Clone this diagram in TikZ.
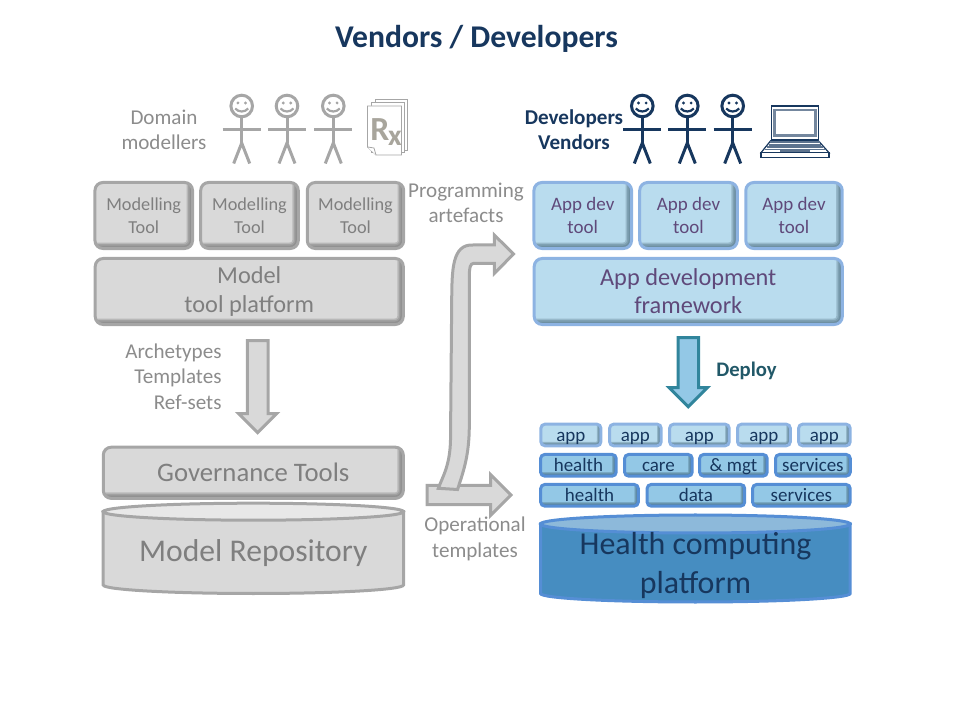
\documentclass[tikz,border=0pt]{standalone}
\usepackage{fontspec}
\setmainfont{Carlito}
\usetikzlibrary{shapes.geometric, shapes.arrows}

\definecolor{greyfill}{HTML}{D9D9D9}
\definecolor{greyline}{HTML}{A6A6A6}
\definecolor{greydark}{HTML}{6F6F6F}
\definecolor{greytext}{HTML}{7F7F7F}
\definecolor{capttext}{HTML}{8C8C8C}
\definecolor{bluefill}{HTML}{B9DCEE}
\definecolor{blueline}{HTML}{8DB3E2}
\definecolor{bluedark}{HTML}{4A6A7C}
\definecolor{smallfill}{HTML}{93C8E6}
\definecolor{smallline}{HTML}{558ED5}
\definecolor{smalldark}{HTML}{3F6478}
\definecolor{purpletext}{HTML}{5F497A}
\definecolor{navy}{HTML}{17375E}
\definecolor{teal}{HTML}{31859C}
\definecolor{tealtext}{HTML}{215868}
\definecolor{basefill}{HTML}{468DC1}
\definecolor{basetop}{HTML}{8DB9DA}
\definecolor{rxcolor}{HTML}{A8A59C}

\newcommand{\fsize}[1]{\fontsize{#1}{#1}\selectfont}

\tikzset{
  bevel/.style n args={2}{
    path picture={
      \foreach \w in {1, 0.75, 0.5, 0.25} {
        \draw[#1, opacity=0.3, line width=\w*#2]
          (path picture bounding box.north east) -- (path picture bounding box.south east)
          -- (path picture bounding box.south west);
      }
    }
  },
  person/.pic={
    \draw[line width=0.075cm] (0,0) circle (10.8);
    \fill (-3.8,-3) circle (1.6);
    \fill (3.8,-3) circle (1.6);
    \draw[line width=0.055cm] (-6.5,2.5) .. controls (-3,6.5) and (3,6.5) .. (6.5,2.5);
    \draw[line width=0.075cm] (0,10.8) -- (0,37);
    \draw[line width=0.075cm] (-19,23.5) -- (19,23.5);
    \draw[line width=0.075cm] (-8,57.5) -- (0,37) -- (8,57.5);
  }
}

\tikzstyle{element}=[rectangle, line width=0.075cm, draw, rounded corners=0.2cm, align=center]
\tikzstyle{greybox}=[element, draw=greyline, fill=greyfill, text=greytext, bevel={greydark}{0.3cm}]
\tikzstyle{bluebox}=[element, draw=blueline, fill=bluefill, text=purpletext, bevel={bluedark}{0.3cm}]
\tikzstyle{appbox}=[element, rounded corners=0.1cm, minimum height=0.54cm, inner sep=0, text=navy,
                    font=\fsize{13.5}, text height=10pt, text depth=0.5pt,
                    draw=blueline, fill=bluefill, bevel={smalldark}{0.2cm}]
\tikzstyle{svcbox}=[element, rounded corners=0.1cm, minimum height=0.54cm, inner sep=0, text=navy,
                    font=\fsize{13.5}, text height=10pt, text depth=0.5pt,
                    draw=smallline, fill=smallfill, bevel={smalldark}{0.2cm}]
\tikzstyle{caption}=[text=capttext, align=center, font=\fsize{15}]
\tikzstyle{block}=[single arrow, line width=0.075cm, inner sep=0.22cm, single arrow head extend=0.22cm]
\tikzstyle{store}=[line width=0.075cm]

\begin{document}
\begin{tikzpicture}[x=0.025cm, y=-0.025cm]
\useasboundingbox (0, 0) rectangle (960, 720);

%%%%%%%%%%%%%%%%%%%%%%%%%%%%%%
% nodes

\node (title) at (476.5, 39) [text=navy, font=\fsize{22.5}\bfseries] {Vendors / Developers};

% modellers
\node (domain) at (164, 130) [caption] {Domain\\[3pt]modellers};
\pic [color=greyline] (modeller_a) at (241.7, 106) {person};
\pic [color=greyline] (modeller_b) at (287, 106) {person};
\pic [color=greyline] (modeller_c) at (333.3, 106) {person};

\node (tool_a) at (143.75, 215.5) [greybox, minimum width=2.44cm, minimum height=1.65cm, font=\fsize{13}] {Modelling\\[3.5pt]Tool};
\node (tool_b) at (249.5, 215.5) [greybox, minimum width=2.44cm, minimum height=1.65cm, font=\fsize{13}] {Modelling\\[3.5pt]Tool};
\node (tool_c) at (355.5, 215.5) [greybox, minimum width=2.41cm, minimum height=1.65cm, font=\fsize{13}] {Modelling\\[3.5pt]Tool};
\node (platform) at (249.25, 291.5) [greybox, minimum width=7.7cm, minimum height=1.65cm, font=\fsize{17.3}] {Model\\[2.7pt]tool platform};

\node (archetypes) at (226.5, 376.5) [caption, anchor=east, align=right] {Archetypes\\[3pt]Templates\\[3pt]Ref-sets};
\node (model_arrow) at (257.7, 381.5) [block, draw=greyline, fill=greyfill, shape border rotate=270, minimum height=2.3cm] {};

\node (governance) at (253.3, 472.8) [greybox, minimum width=7.5cm, minimum height=1.28cm, font=\fsize{19}] {Governance Tools};

% model repository
\draw [store, draw=greyline, fill=greyfill] (103.2, 511.7) -- (103.2, 585)
  arc [start angle=180, end angle=0, x radius=150.15, y radius=8.5] -- (403.5, 511.7) -- cycle;
\draw [store, draw=greyline, fill=greyfill!60!white] (253.35, 511.7) ellipse [x radius=150.15, y radius=8.5];
\node (repository) at (253.3, 553.5) [text=greytext, font=\fsize{22.5}] {Model Repository};

% artefacts
\node (programming) at (466, 202.5) [caption] {Programming\\[3pt]artefacts};
\node (operational) at (475, 539) [caption] {Operational\\[3pt]templates};
\node (operational_arrow) at (464.2, 495) [block, draw=greyline, fill=greyfill, inner sep=0.206cm, single arrow head extend=0.27cm, minimum height=2.1cm] {};
\draw [line width=0.075cm, draw=greyline, fill=greyfill]
  (438.3, 488.3) .. controls (443, 476) and (450, 465) .. (450.5, 440) -- (451.7, 300)
  .. controls (452, 270) and (452, 244) .. (473, 245) -- (494.3, 245) -- (494.3, 235)
  -- (513.5, 254) -- (494.3, 273.5) -- (494.3, 263.3) -- (474, 263.3)
  .. controls (470, 263.3) and (469.5, 268) .. (469.3, 275) -- (469.3, 427)
  .. controls (469, 455) and (464, 470) .. (457.5, 489.5) -- cycle;

% developers
\node (vendors) at (574, 130) [text=navy, align=center, font=\fsize{15}\bfseries] {Developers\\[3pt]Vendors};
\pic [color=navy] (developer_a) at (642.3, 106) {person};
\pic [color=navy] (developer_b) at (687.3, 106) {person};
\pic [color=navy] (developer_c) at (732.7, 106) {person};

\node (dev_a) at (582.75, 215.5) [bluebox, minimum width=2.44cm, minimum height=1.65cm, font=\fsize{13.5}] {App dev\\[3pt]tool};
\node (dev_b) at (688.5, 215.5) [bluebox, minimum width=2.44cm, minimum height=1.65cm, font=\fsize{13.5}] {App dev\\[3pt]tool};
\node (dev_c) at (794, 215.5) [bluebox, minimum width=2.41cm, minimum height=1.65cm, font=\fsize{13.5}] {App dev\\[3pt]tool};
\node (framework) at (688.25, 291.5) [bluebox, minimum width=7.7cm, minimum height=1.65cm, font=\fsize{17.3}] {App development\\[2.7pt]framework};

\node (deploy_arrow) at (688.3, 367) [block, draw=teal, fill=smallfill, inner sep=0.22cm, shape border rotate=270, minimum height=1.73cm] {};
\node (deploy) at (746.5, 371) [text=tealtext, font=\fsize{14.7}\bfseries] {Deploy};

% platform stack
\node (app_a) at (570.9, 435) [appbox, minimum width=1.5cm] {app};
\node (app_b) at (635.4, 435) [appbox, minimum width=1.29cm] {app};
\node (app_c) at (699.4, 435) [appbox, minimum width=1.49cm] {app};
\node (app_d) at (763.9, 435) [appbox, minimum width=1.32cm] {app};
\node (app_e) at (824.4, 435) [appbox, minimum width=1.29cm] {app};

\node (health_a) at (578.4, 465.3) [svcbox, minimum width=1.89cm] {health};
\node (care) at (658.4, 465.3) [svcbox, minimum width=1.69cm] {care};
\node (mgt) at (733.4, 465.3) [svcbox, minimum width=1.69cm] {\& mgt};
\node (services_a) at (812.9, 465.3) [svcbox, minimum width=1.87cm] {services};

\node (health_b) at (589.5, 495.3) [svcbox, minimum width=2.44cm] {health};
\node (data) at (695.9, 495.3) [svcbox, minimum width=2.44cm] {data};
\node (services_b) at (801.4, 495.3) [svcbox, minimum width=2.44cm] {services};

% computing platform
\draw [store, draw=smallline, fill=basefill] (540.5, 524) -- (540.5, 593.5)
  arc [start angle=180, end angle=0, x radius=154.85, y radius=8.5] -- (850.2, 524) -- cycle;
\draw [store, draw=smallline, fill=basetop] (695.35, 524) ellipse [x radius=154.85, y radius=9];
\node (computing) at (695.5, 565.5) [text=navy, align=center, font=\fsize{22.7}] {Health computing\\[4.5pt]platform};

%%%%%%%%%%%%%%%%%%%%%%%%%%%%%%
% icons

% rx pages
\draw [greyline, line width=0.02cm, fill=white] (375, 99) rectangle (407.5, 150);
\draw [greyline, line width=0.02cm, fill=white] (371, 102.5) rectangle (404.5, 152.5);
\draw [greyline, line width=0.02cm, fill=white] (367.5, 106) -- (401.5, 106) -- (401.5, 155) -- (376, 155) -- (367.5, 147) -- cycle;
\draw [greyline, line width=0.02cm, fill=white] (367.5, 147) -- (374, 148) -- (376, 155);
\node (rx) at (386, 132) [text=rxcolor, inner sep=0, font=\fsize{24}\bfseries] {R\kern-1pt\raisebox{-4pt}{\fsize{21}x}};

% laptop
\draw [navy, line width=0.03cm, fill=white] (771.7, 106) rectangle (818.3, 139.5);
\draw [navy!60!white, line width=0.07cm] (774.5, 110) rectangle (815.5, 135.5);
\draw [navy, line width=0.03cm, fill=white] (770.7, 140.7) -- (818.3, 140.7) -- (829, 152.7) -- (761, 152.7) -- cycle;
\draw [navy, line width=0.03cm, fill=white] (761, 152.7) rectangle (829, 157.3);
\draw [navy!70!white, line width=0.04cm] (770, 142.3) -- (819.5, 142.3);
\draw [navy!70!white, line width=0.04cm] (768.5, 144.8) -- (821, 144.8);
\draw [navy!70!white, line width=0.04cm] (766.5, 147.2) -- (823, 147.2);
\draw [navy!70!white, line width=0.04cm] (764.5, 149.7) -- (825, 149.7);
\fill [navy!70!white] (780, 149.3) rectangle (810, 151.8);

\end{tikzpicture}
\end{document}
